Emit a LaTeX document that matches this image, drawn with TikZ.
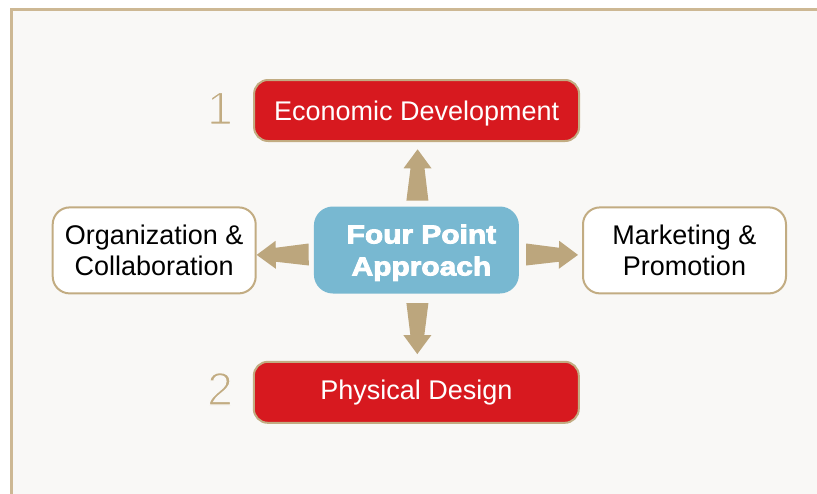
\documentclass[tikz,border=0pt]{standalone}
\usepackage{fontspec}
\setmainfont{Liberation Sans}
\newfontfamily\corefont[FakeBold=3.5,FakeStretch=1.15]{Liberation Sans Bold}
\usetikzlibrary{calc}

\definecolor{pagebg}{HTML}{F9F8F6}
\definecolor{frametan}{HTML}{CDB894}
\definecolor{bordertan}{HTML}{C2AC82}
\definecolor{arrowtan}{HTML}{BCA67D}
\definecolor{pointred}{HTML}{D7191F}
\definecolor{coreblue}{HTML}{78B8D1}

% thin strokes for the big step numbers
\newcommand\thindigit[1]{\special{pdf:literal direct 2 Tr 1.4 w 0.976 0.973 0.965 RG}#1\special{pdf:literal direct 0 Tr}}

% tapered arrow from one coordinate to another
\newcommand\fatarrow[2]{%
	\coordinate (neck) at ($(#2)!19pt!(#1)$);
	\fill[arrowtan] ($(#1)!11pt!90:(#2)$) -- ($(neck)!7pt!90:(#2)$) -- ($(neck)!14pt!90:(#2)$) -- (#2)
		-- ($(neck)!14pt!-90:(#2)$) -- ($(neck)!7pt!-90:(#2)$) -- ($(#1)!11pt!-90:(#2)$) -- cycle;
}

\tikzset{
	point box/.style={
		draw=bordertan, line width=2, inner sep=0, align=center,
		font=\fontsize{27}{31.5}\selectfont
	},
	red point/.style={point box, fill=pointred, text=white, rounded corners=14,
		minimum width=325, minimum height=61},
	white point/.style={point box, fill=white, text=black, rounded corners=17,
		minimum width=203, minimum height=86},
	core point/.style={fill=coreblue, text=white, rounded corners=19, inner sep=0,
		align=center, minimum width=205, minimum height=87, text depth=0pt,
		font=\corefont\fontsize{26}{32}\selectfont},
	step number/.style={text=bordertan, anchor=base, inner sep=0,
		font=\fontsize{46.5}{46.5}\selectfont}
}

\begin{document}
\begin{tikzpicture}[x=1pt, y=-1pt]
	\useasboundingbox (0,0) rectangle (817,493);
	\fill[white] (0,0) rectangle (817,493);
	\begin{scope}
		\clip (0,0) rectangle (817,493);
		\draw[frametan, line width=3, fill=pagebg] (11,9.5) rectangle (840,520);
	\end{scope}

	% the four points round the approach
	\node[core point] (core) at (416.4,250) {\hspace*{10pt}Four Point\\\hspace*{10pt}Approach};
	\node[red point, text depth=0pt] (econ) at (416.6,110.5) {Economic Development};
	\node[red point] (phys) at (416.3,392.3) {Physical Design};
	\node[white point] (org) at (154.2,250.4) {Organization \&\\Collaboration};
	\node[white point] (mkt) at (684.5,250.4) {Marketing \&\\Promotion};

	\node[step number] (one) at (220,124.3) {\thindigit{1}};
	\node[step number] (two) at (220,405) {\thindigit{2}};

	% arrow ends
	\coordinate (upfrom) at ([xshift=1pt,yshift=5.7pt]core.north);
	\coordinate (upto) at ([xshift=1pt,yshift=-7.3pt]econ.south);
	\coordinate (downfrom) at ([xshift=1pt,yshift=-9.4pt]core.south);
	\coordinate (downto) at ([xshift=1pt,yshift=6.7pt]phys.north);
	\coordinate (leftfrom) at ([xshift=-5pt,yshift=-4.5pt]core.west);
	\coordinate (leftto) at ([yshift=-4.5pt]org.east);
	\coordinate (rightfrom) at ([xshift=7pt,yshift=-4.5pt]core.east);
	\coordinate (rightto) at ([xshift=-4pt,yshift=-4.5pt]mkt.west);

	\fatarrow{upfrom}{upto}
	\fatarrow{downfrom}{downto}
	\fatarrow{leftfrom}{leftto}
	\fatarrow{rightfrom}{rightto}
\end{tikzpicture}
\end{document}
